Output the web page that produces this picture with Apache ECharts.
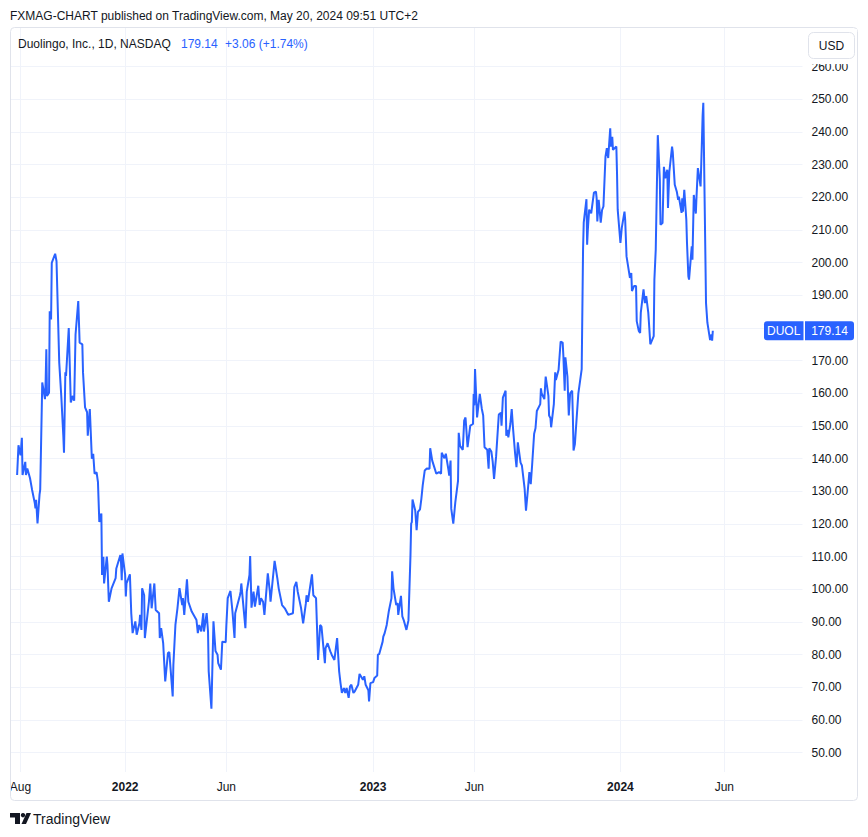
<!DOCTYPE html>
<html>
<head>
<meta charset="utf-8">
<script src="https://cdn.jsdelivr.net/npm/echarts@6/dist/echarts.min.js"></script>
<style>
html,body{margin:0;padding:0;background:#ffffff;}
#chart{width:868px;height:837px;}
</style>
</head>
<body>
<div id="chart"></div>
<script>
// ---------- DATA (daily closes, DUOL, NASDAQ) ----------
const dates2021 = ['2021-07-28','2021-07-29','2021-07-30',
'2021-08-02','2021-08-04','2021-08-05','2021-08-09','2021-08-10','2021-08-12','2021-08-16','2021-08-19','2021-08-23','2021-08-24','2021-08-25','2021-08-27','2021-08-30','2021-08-31',
'2021-09-03','2021-09-07','2021-09-08','2021-09-09','2021-09-10','2021-09-13','2021-09-14','2021-09-16','2021-09-17','2021-09-22','2021-09-24','2021-09-28',
'2021-10-01','2021-10-04','2021-10-05','2021-10-07','2021-10-08','2021-10-12','2021-10-15','2021-10-18','2021-10-20','2021-10-22','2021-10-26','2021-10-28',
'2021-11-01','2021-11-02','2021-11-05','2021-11-08','2021-11-09','2021-11-12','2021-11-15','2021-11-17','2021-11-19','2021-11-22','2021-11-24','2021-11-26','2021-11-29','2021-11-30',
'2021-12-02','2021-12-03','2021-12-07','2021-12-08','2021-12-10','2021-12-14','2021-12-20','2021-12-21','2021-12-27','2021-12-28','2021-12-29','2021-12-30'];
const closes2021 = [135.0,139.5,144.1,
141.0,146.4,135.0,139.0,135.0,137.0,134.0,130.5,126.4,124.8,127.4,120.2,129.0,130.5,
163.3,158.2,163.8,173.5,159.2,160.2,185.1,182.6,199.9,202.7,200.4,169.4,
159.2,147.0,141.8,166.4,165.3,180.0,157.2,159.2,157.7,178.0,188.2,175.5,
175.0,166.4,155.7,154.2,147.0,155.2,140.0,141.5,135.4,135.8,132.8,120.6,123.2,104.4,
110.0,101.8,110.0,107.4,96.2,100.3,103.4,106.4,110.5,107.9,102.8,111.0];

const dates2022 = ['2022-01-03','2022-01-04','2022-01-05','2022-01-10','2022-01-12','2022-01-14','2022-01-18','2022-01-20','2022-01-24','2022-01-25','2022-01-27','2022-01-28','2022-01-31',
'2022-02-01','2022-02-07','2022-02-09','2022-02-11','2022-02-15','2022-02-17','2022-02-22','2022-02-23','2022-02-24','2022-02-25','2022-02-28',
'2022-03-03','2022-03-07','2022-03-09','2022-03-14','2022-03-15','2022-03-18','2022-03-21','2022-03-24','2022-03-28','2022-03-29','2022-03-31',
'2022-04-04','2022-04-06','2022-04-11','2022-04-18','2022-04-20','2022-04-22','2022-04-25','2022-04-28','2022-04-29',
'2022-05-03','2022-05-05','2022-05-06','2022-05-10','2022-05-13','2022-05-16','2022-05-19','2022-05-20','2022-05-24','2022-05-26','2022-05-31',
'2022-06-01','2022-06-03','2022-06-07','2022-06-10','2022-06-13','2022-06-14','2022-06-21','2022-06-22','2022-06-23','2022-06-27','2022-06-29',
'2022-07-01','2022-07-05','2022-07-06','2022-07-08','2022-07-11','2022-07-13','2022-07-18','2022-07-20','2022-07-22','2022-07-25','2022-07-27',
'2022-08-01','2022-08-04','2022-08-05','2022-08-11','2022-08-15','2022-08-17','2022-08-22','2022-08-26','2022-08-31',
'2022-09-07','2022-09-09','2022-09-12','2022-09-14','2022-09-19','2022-09-22','2022-09-26','2022-09-27','2022-09-29',
'2022-10-03','2022-10-05','2022-10-07','2022-10-11','2022-10-14','2022-10-17','2022-10-19','2022-10-24','2022-10-25','2022-10-28',
'2022-11-01','2022-11-03','2022-11-07','2022-11-11','2022-11-14','2022-11-16','2022-11-18','2022-11-21','2022-11-23','2022-11-25','2022-11-28','2022-11-30',
'2022-12-02','2022-12-05','2022-12-07','2022-12-12','2022-12-14','2022-12-16','2022-12-19','2022-12-21','2022-12-23','2022-12-27','2022-12-28','2022-12-30'];
const closes2022 = [104.4,97.8,101.8,104.6,92.7,86.6,90.2,86.1,89.6,92.2,87.6,100.3,98.2,
85.1,96.2,101.8,94.2,101.8,93.7,92.7,85.1,87.1,88.1,83.5,
71.8,80.5,80.8,67.2,76.9,89.1,94.2,100.4,95.2,97.3,92.2,
103.1,96.2,93.2,90.6,86.6,89.1,87.1,92.7,87.1,
92.7,87.1,74.9,63.5,90.2,81.1,80.0,77.4,75.4,84.0,83.8,
89.1,97.3,99.5,93.2,85.1,92.7,98.2,99.3,101.8,92.7,88.1,
99.3,104.4,110.2,94.4,99.3,94.7,101.1,95.2,97.3,96.2,92.2,
104.9,99.3,96.2,108.7,103.4,100.3,95.2,94.2,92.2,
92.7,100.7,102.3,99.3,94.2,89.6,95.7,98.2,96.2,
101.8,104.6,98.2,97.3,78.4,89.1,88.6,77.4,82.0,83.5,
81.0,80.0,78.4,85.1,74.9,71.3,68.3,69.8,68.3,69.8,66.8,70.3,
70.8,68.3,68.8,70.8,74.1,73.4,72.3,73.4,70.8,69.1,65.7,71.3];

const dates2023 = ['2023-01-03','2023-01-05','2023-01-09','2023-01-10','2023-01-12','2023-01-17','2023-01-18','2023-01-20','2023-01-23','2023-01-26','2023-01-30','2023-01-31',
'2023-02-02','2023-02-06','2023-02-08','2023-02-09','2023-02-10','2023-02-13','2023-02-15','2023-02-17','2023-02-21','2023-02-24','2023-02-27','2023-02-28',
'2023-03-01','2023-03-02','2023-03-06','2023-03-08','2023-03-10','2023-03-13','2023-03-15','2023-03-17','2023-03-20','2023-03-23','2023-03-27','2023-03-28','2023-03-31',
'2023-04-03','2023-04-06','2023-04-10','2023-04-13','2023-04-14','2023-04-18','2023-04-20','2023-04-24','2023-04-25','2023-04-27','2023-04-28',
'2023-05-01','2023-05-04','2023-05-08','2023-05-09','2023-05-11','2023-05-15','2023-05-17','2023-05-19','2023-05-22','2023-05-26','2023-05-30','2023-05-31',
'2023-06-01','2023-06-02','2023-06-05','2023-06-07','2023-06-09','2023-06-12','2023-06-14','2023-06-16','2023-06-20','2023-06-22','2023-06-23','2023-06-26','2023-06-28','2023-06-30',
'2023-07-03','2023-07-07','2023-07-10','2023-07-11','2023-07-13','2023-07-17','2023-07-18','2023-07-20','2023-07-21','2023-07-24','2023-07-26','2023-07-28','2023-07-31',
'2023-08-02','2023-08-04','2023-08-08','2023-08-10','2023-08-14','2023-08-16','2023-08-18','2023-08-21','2023-08-23','2023-08-25','2023-08-28','2023-08-30',
'2023-09-01','2023-09-06','2023-09-07','2023-09-08','2023-09-12','2023-09-14','2023-09-18','2023-09-19','2023-09-21','2023-09-22','2023-09-26','2023-09-28','2023-09-29',
'2023-10-03','2023-10-06','2023-10-09','2023-10-10','2023-10-12','2023-10-13','2023-10-16','2023-10-18','2023-10-20','2023-10-23','2023-10-24','2023-10-25','2023-10-27',
'2023-11-01','2023-11-06','2023-11-08','2023-11-09','2023-11-10','2023-11-13','2023-11-14','2023-11-15','2023-11-17','2023-11-20','2023-11-24','2023-11-27','2023-11-28','2023-11-29',
'2023-12-01','2023-12-04','2023-12-06','2023-12-08','2023-12-11','2023-12-13','2023-12-15','2023-12-18','2023-12-19','2023-12-21','2023-12-22','2023-12-27','2023-12-28','2023-12-29'];
const closes2023 = [71.6,72.9,73.6,80.0,80.2,84.0,85.5,86.6,89.1,93.2,97.3,105.5,
100.3,95.2,95.8,92.2,93.7,98.0,91.7,90.6,87.6,90.5,110.5,120.1,
120.6,127.5,124.1,118.1,123.7,124.5,127.7,131.8,136.4,137.0,136.9,143.2,139.4,
137.4,135.4,135.9,135.4,141.8,140.1,141.5,136.4,134.8,139.4,124.7,
120.1,126.7,133.3,147.9,143.9,142.7,151.6,152.6,143.5,150.1,150.6,159.8,
156.3,167.4,152.6,156.3,159.8,155.2,153.2,143.5,142.7,136.9,143.2,142.2,139.1,133.8,
140.6,153.5,154.0,150.1,158.7,160.8,147.0,148.8,146.5,150.6,155.2,149.1,141.5,
137.4,145.0,138.8,137.9,130.8,124.1,128.6,135.9,132.2,137.9,147.6,149.3,
154.6,156.7,161.5,160.0,158.2,165.1,159.2,153.2,152.4,149.6,156.7,166.4,164.1,
167.2,175.8,175.5,171.6,160.8,171.0,165.1,153.2,160.0,160.8,152.9,142.5,144.5,
159.8,167.4,204.0,212.2,214.1,219.4,205.5,210.0,216.2,215.1,221.4,221.7,219.7,212.6,
219.2,212.2,216.1,217.2,232.4,235.0,232.0,241.1,235.5,238.5,234.5,235.5,227.3,216.2];

const dates2024 = ['2024-01-02','2024-01-04','2024-01-08','2024-01-09','2024-01-11','2024-01-16','2024-01-18','2024-01-19','2024-01-22','2024-01-25','2024-01-26','2024-01-29','2024-01-31',
'2024-02-01','2024-02-05','2024-02-07','2024-02-09','2024-02-12','2024-02-13','2024-02-15','2024-02-20','2024-02-21','2024-02-23','2024-02-26','2024-02-27','2024-02-29',
'2024-03-01','2024-03-04','2024-03-06','2024-03-08','2024-03-11','2024-03-12','2024-03-14','2024-03-18','2024-03-19','2024-03-22','2024-03-25','2024-03-27','2024-03-28',
'2024-04-01','2024-04-02','2024-04-03','2024-04-05','2024-04-08','2024-04-09','2024-04-11','2024-04-12','2024-04-16','2024-04-17','2024-04-19','2024-04-22','2024-04-23','2024-04-25','2024-04-29','2024-04-30',
'2024-05-01','2024-05-02','2024-05-03','2024-05-07','2024-05-09','2024-05-13','2024-05-15','2024-05-16','2024-05-17'];
const closes2024 = [206.0,210.6,215.6,213.1,201.9,195.3,196.8,191.3,192.8,192.8,182.1,179.1,178.5,
184.7,191.8,187.6,189.7,184.7,181.6,175.0,177.5,194.8,204.0,239.0,234.5,225.3,
211.6,212.1,229.3,225.8,228.4,216.7,227.8,235.5,233.9,223.8,221.7,219.2,220.2,
215.2,219.7,215.6,222.3,213.1,206.0,195.8,194.8,205.0,200.9,220.7,215.0,220.2,228.9,223.3,230.4,
237.5,245.0,248.9,187.6,181.6,176.3,178.0,176.08,179.14];

const dates = [].concat(dates2021, dates2022, dates2023, dates2024);
const closes = [].concat(closes2021, closes2022, closes2023, closes2024);

const yTicks = [50,60,70,80,90,100,110,120,130,140,150,160,170,180,190,200,210,220,230,240,250,260];
const xTickDates = ['2021-08-02','2022-01-03','2022-06-01','2023-01-03','2023-06-01','2024-01-02','2024-06-03'];
const xTickLabels = ['Aug','2022','Jun','2023','Jun','2024','Jun'];
const xRange = ['2021-07-19','2024-09-26'];

const symbol = 'DUOL';
const headerText = 'FXMAG-CHART published on TradingView.com, May 20, 2024 09:51 UTC+2';
const legendName = 'Duolingo, Inc., 1D, NASDAQ';
const lastPriceText = '179.14';
const changeText = '+3.06 (+1.74%)';
const currency = 'USD';

// ---------- CHART ----------
const FONT = '"Liberation Sans", Arial, sans-serif';
const TEXT = '#131722';
const BLUE = '#2962FF';
const GRID = '#f0f3fa';

const toTime = d => +echarts.time.parse(d);
const tickTimes = xTickDates.map(toTime);
const lastClose = closes[closes.length - 1];
// the axis label hidden behind the last-price tag
const yLabelValues = yTicks.filter(v => Math.abs(v - lastClose) > 3);

function xLabel(value) {
  let best = 0, bd = Infinity;
  tickTimes.forEach((t, i) => { const d = Math.abs(t - value); if (d < bd) { bd = d; best = i; } });
  const s = xTickLabels[best];
  return /^\d{4}$/.test(s) ? '{b|' + s + '}' : s;
}

const chart = echarts.init(document.getElementById('chart'), null, {renderer: 'svg'});

chart.setOption({
  animation: false,
  backgroundColor: '#ffffff',
  grid: {left: 11, right: 65.5, top: 27, bottom: 65},
  xAxis: {
    type: 'value',
    min: toTime(xRange[0]),
    max: toTime(xRange[1]),
    axisLine: {show: false},
    axisTick: {show: false, customValues: tickTimes},
    axisLabel: {
      customValues: tickTimes,
      formatter: xLabel,
      color: TEXT, fontSize: 12, fontFamily: FONT, margin: 9,
      rich: {b: {fontWeight: 'bold', fontSize: 12, fontFamily: FONT, color: TEXT}}
    },
    splitLine: {show: true, lineStyle: {color: GRID, width: 1}}
  },
  yAxis: {
    type: 'value',
    position: 'right',
    min: 44.1,
    max: 272.1,
    axisLine: {show: false},
    axisTick: {show: false, customValues: yTicks},
    axisLabel: {
      customValues: yLabelValues,
      formatter: v => v.toFixed(2),
      color: TEXT, fontSize: 12, fontFamily: FONT, margin: 9
    },
    splitLine: {show: true, lineStyle: {color: GRID, width: 1}}
  },
  series: [{
    type: 'line',
    data: dates.map((d, i) => [toTime(d), closes[i]]),
    showSymbol: false,
    symbol: 'none',
    lineStyle: {color: BLUE, width: 2},
    itemStyle: {color: BLUE},
    z: 3
  }]
});

const lastPt = chart.convertToPixel({xAxisIndex: 0, yAxisIndex: 0}, [toTime(dates[dates.length - 1]), lastClose]);
const py = lastPt[1];

chart.setOption({
  graphic: [
    // clip of the first time label at the frame edge
    {type: 'rect', silent: true, z: 99, shape: {x: 0, y: 776, width: 11, height: 22}, style: {fill: '#ffffff'}},
    {type: 'rect', silent: true, z: 100, shape: {x: 10.5, y: 27.5, width: 847, height: 773, r: 4},
     style: {fill: 'none', stroke: '#e0e3eb', lineWidth: 1}},
    {type: 'text', silent: true, z: 100, x: 10, y: 15.5,
     style: {text: headerText, fill: TEXT, fontSize: 12, fontFamily: FONT, verticalAlign: 'middle'}},
    {type: 'text', silent: true, z: 100, x: 18, y: 44,
     style: {text: legendName, fill: TEXT, fontSize: 12, fontFamily: FONT, verticalAlign: 'middle'}},
    {type: 'text', silent: true, z: 100, x: 181, y: 44,
     style: {text: lastPriceText, fill: BLUE, fontSize: 12, fontFamily: FONT, verticalAlign: 'middle'}},
    {type: 'text', silent: true, z: 100, x: 225, y: 44,
     style: {text: changeText, fill: BLUE, fontSize: 12, fontFamily: FONT, verticalAlign: 'middle'}},
    // currency button
    {type: 'rect', silent: true, z: 100, shape: {x: 805, y: 29, width: 52, height: 35},
     style: {fill: '#ffffff'}},
    {type: 'rect', silent: true, z: 101, shape: {x: 808.5, y: 32.5, width: 46, height: 26, r: 5},
     style: {fill: '#ffffff', stroke: '#e0e3eb', lineWidth: 1}},
    {type: 'text', silent: true, z: 102, x: 831.5, y: 46,
     style: {text: currency, fill: TEXT, fontSize: 12, fontFamily: FONT, align: 'center', verticalAlign: 'middle'}},
    // last price tags
    {type: 'rect', silent: true, z: 100, shape: {x: 764, y: py - 9.5, width: 39.5, height: 19, r: [3, 0, 0, 3]},
     style: {fill: BLUE}},
    {type: 'text', silent: true, z: 101, x: 783.7, y: py + 0.5,
     style: {text: symbol, fill: '#ffffff', fontSize: 12, fontFamily: FONT, align: 'center', verticalAlign: 'middle'}},
    {type: 'rect', silent: true, z: 100, shape: {x: 805, y: py - 9.5, width: 49, height: 19, r: [0, 3, 3, 0]},
     style: {fill: BLUE}},
    {type: 'text', silent: true, z: 101, x: 829.5, y: py + 0.5,
     style: {text: lastPriceText, fill: '#ffffff', fontSize: 12, fontFamily: FONT, align: 'center', verticalAlign: 'middle'}},
    // TradingView logo
    {type: 'rect', silent: true, z: 100, shape: {x: 10, y: 813, width: 10, height: 4.5}, style: {fill: TEXT}},
    {type: 'rect', silent: true, z: 100, shape: {x: 15, y: 813, width: 5, height: 11}, style: {fill: TEXT}},
    {type: 'circle', silent: true, z: 100, shape: {cx: 23, cy: 815.2, r: 2.2}, style: {fill: TEXT}},
    {type: 'polygon', silent: true, z: 100, shape: {points: [[26.5, 813], [31, 813], [26, 824], [21.5, 824]]}, style: {fill: TEXT}},
    {type: 'text', silent: true, z: 100, x: 33, y: 819,
     style: {text: 'TradingView', fill: TEXT, fontSize: 14, fontFamily: FONT, verticalAlign: 'middle'}}
  ]
});
</script>
</body>
</html>
